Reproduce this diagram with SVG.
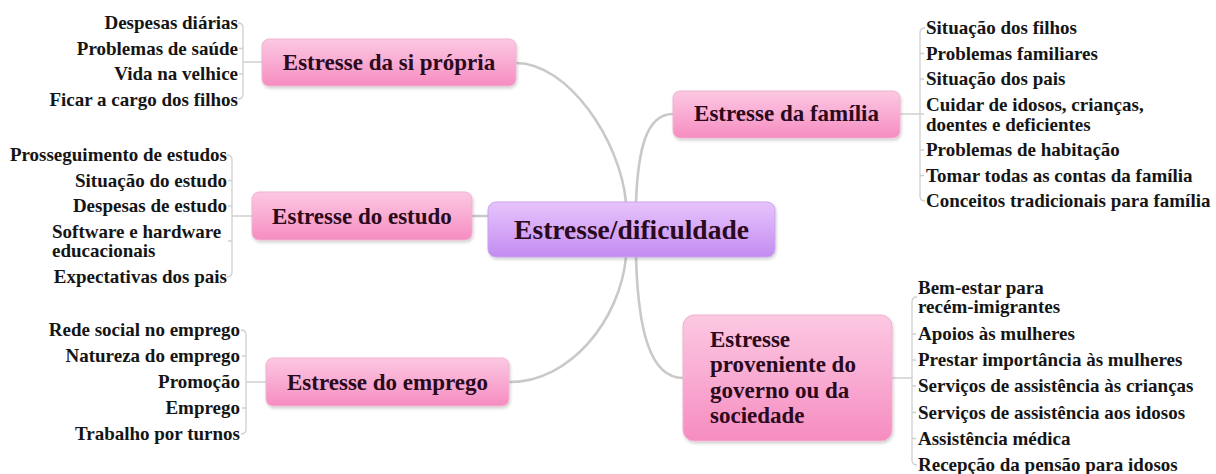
<svg xmlns="http://www.w3.org/2000/svg" width="1216" height="474" viewBox="0 0 1216 474">
<defs>
<linearGradient id="gPink" x1="0" y1="0" x2="0" y2="1">
<stop offset="0" stop-color="#fcc8e2"/>
<stop offset="0.5" stop-color="#f9abd2"/>
<stop offset="1" stop-color="#f68cc0"/>
</linearGradient>
<linearGradient id="gPurple" x1="0" y1="0" x2="0" y2="1">
<stop offset="0" stop-color="#e6c4fb"/>
<stop offset="0.5" stop-color="#d6a8f7"/>
<stop offset="1" stop-color="#c38cf1"/>
</linearGradient>
<filter id="shadow" x="-10%" y="-10%" width="125%" height="135%">
<feDropShadow dx="1" dy="2" stdDeviation="1.8" flood-color="#000" flood-opacity="0.18"/>
</filter>
</defs>
<style>
.node rect{fill:url(#gPink);stroke:#efb3cf;stroke-width:1;filter:url(#shadow)}
#center rect{fill:url(#gPurple);stroke:#caa3ef}
.nt{font-family:"Liberation Serif","Times New Roman",serif;font-weight:bold;font-size:23px;fill:#2a0a1c}
.ct{font-size:27.5px}
.lt{font-family:"Liberation Serif","Times New Roman",serif;font-weight:bold;font-size:19px;fill:#151515}
.r{text-anchor:end}
.m{text-anchor:middle}
.main{fill:none;stroke:#c9c9c9;stroke-width:2.6;stroke-linecap:round}
.br{fill:none;stroke:#cfcfcf;stroke-width:1.3}
</style>

<g id="connectors">
<path class="main" d="M516,63 C568,63 620,140 626,202"/>
<path class="main" d="M636,202 C638,150 646,114 673,114"/>
<path class="main" d="M472,216 H488"/>
<path class="main" d="M626,257 C620,320 570,382 510,382"/>
<path class="main" d="M636,257 C638,330 650,378 683,378"/>
<!-- left group 1 bracket -->
<path class="br" d="M262,62 H243 M238,23 Q243,23 243,28 V94 Q243,99 238,99 M243,48.5 H239 M243,74 H239"/>
<!-- left group 2 bracket -->
<path class="br" d="M252,216 H232 M227,155 Q232,155 232,160 V272 Q232,277 227,277 M232,180.5 H228 M232,206 H228 M232,241 H228"/>
<!-- left group 3 bracket -->
<path class="br" d="M266,382 H246 M241,330 Q246,330 246,335 V429 Q246,434 241,434 M246,356 H242 M246,408 H242"/>
<!-- right group 1 bracket -->
<path class="br" d="M900,114 H920 M925,28 Q920,28 920,33 V196 Q920,201 925,201 M920,53.5 H924 M920,79 H924 M920,114 H924 M920,150 H924 M920,175.5 H924"/>
<!-- right group 2 bracket -->
<path class="br" d="M892,378 H912 M917,297 Q912,297 912,302 V460 Q912,465 917,465 M912,334 H916 M912,360 H916 M912,386 H916 M912,412.5 H916 M912,438.5 H916"/>
</g>

<g id="center" class="node">
<rect x="488" y="202" width="287" height="55" rx="8"/>
<text class="nt ct m" x="631.5" y="239">Estresse/dificuldade</text>
</g>

<g id="n-propria" class="node">
<rect x="262" y="39" width="254" height="47" rx="7"/>
<text class="nt m" x="389" y="70">Estresse da si própria</text>
</g>
<g id="c-propria">
<text class="lt r" x="238" y="29">Despesas diárias</text>
<text class="lt r" x="238" y="54.5">Problemas de saúde</text>
<text class="lt r" x="238" y="80">Vida na velhice</text>
<text class="lt r" x="238" y="105.5">Ficar a cargo dos filhos</text>
</g>

<g id="n-estudo" class="node">
<rect x="252" y="192" width="220" height="48" rx="7"/>
<text class="nt m" x="362" y="224">Estresse do estudo</text>
</g>
<g id="c-estudo">
<text class="lt r" x="227" y="161">Prosseguimento de estudos</text>
<text class="lt r" x="227" y="186.5">Situação do estudo</text>
<text class="lt r" x="227" y="212">Despesas de estudo</text>
<text class="lt" x="52" y="237.5">Software e hardware</text>
<text class="lt" x="52" y="257">educacionais</text>
<text class="lt r" x="227" y="282.5">Expectativas dos pais</text>
</g>

<g id="n-emprego" class="node">
<rect x="266" y="358" width="243" height="48" rx="7"/>
<text class="nt m" x="387.5" y="390">Estresse do emprego</text>
</g>
<g id="c-emprego">
<text class="lt r" x="240" y="336">Rede social no emprego</text>
<text class="lt r" x="240" y="362">Natureza do emprego</text>
<text class="lt r" x="240" y="388">Promoção</text>
<text class="lt r" x="240" y="414">Emprego</text>
<text class="lt r" x="240" y="440">Trabalho por turnos</text>
</g>

<g id="n-familia" class="node">
<rect x="673" y="91" width="227" height="47" rx="7"/>
<text class="nt m" x="786.5" y="121">Estresse da família</text>
</g>
<g id="c-familia">
<text class="lt" x="926" y="34">Situação dos filhos</text>
<text class="lt" x="926" y="59.5">Problemas familiares</text>
<text class="lt" x="926" y="85">Situação dos pais</text>
<text class="lt" x="926" y="110.5">Cuidar de idosos, crianças,</text>
<text class="lt" x="926" y="130.5">doentes e deficientes</text>
<text class="lt" x="926" y="156">Problemas de habitação</text>
<text class="lt" x="926" y="181.5">Tomar todas as contas da família</text>
<text class="lt" x="926" y="207">Conceitos tradicionais para família</text>
</g>

<g id="n-governo" class="node">
<rect x="683" y="315" width="209" height="126" rx="11"/>
<text class="nt" x="710" y="347">Estresse</text>
<text class="nt" x="710" y="372">proveniente do</text>
<text class="nt" x="710" y="397.5">governo ou da</text>
<text class="nt" x="710" y="423">sociedade</text>
</g>
<g id="c-governo">
<text class="lt" x="918" y="293.5">Bem-estar para</text>
<text class="lt" x="918" y="313">recém-imigrantes</text>
<text class="lt" x="918" y="340">Apoios às mulheres</text>
<text class="lt" x="918" y="366">Prestar importância às mulheres</text>
<text class="lt" x="918" y="392">Serviços de assistência às crianças</text>
<text class="lt" x="918" y="418.5">Serviços de assistência aos idosos</text>
<text class="lt" x="918" y="444.5">Assistência médica</text>
<text class="lt" x="918" y="470.5">Recepção da pensão para idosos</text>
</g>
</svg>
